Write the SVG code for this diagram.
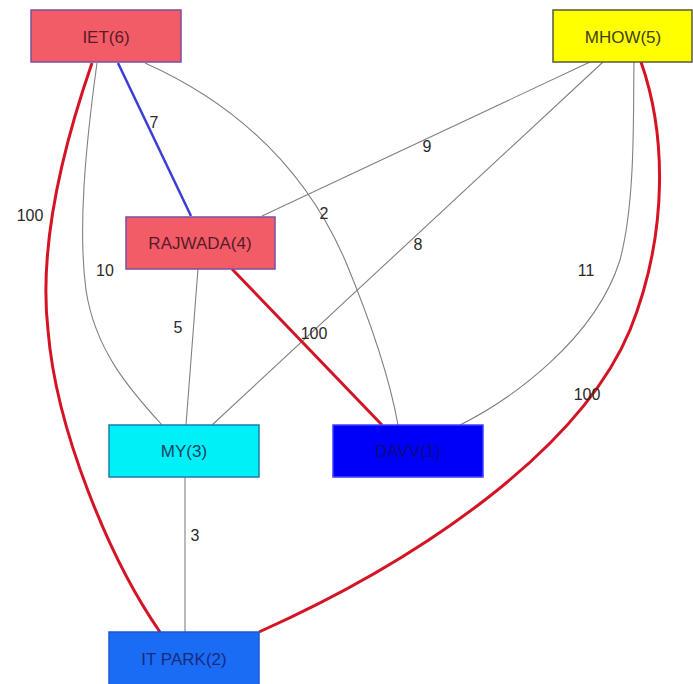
<svg xmlns="http://www.w3.org/2000/svg" width="693" height="684" viewBox="0 0 693 684">
<style>
.n rect{stroke-width:1.5}
.n text{font-family:"Liberation Sans",Arial,sans-serif;font-size:17px;text-anchor:middle;dominant-baseline:central}
.e{fill:none;stroke:#808080;stroke-width:1.1}
.r{fill:none;stroke:#d41424;stroke-width:3}
.b{fill:none;stroke:#3c3cd8;stroke-width:2.5}
.l{font-family:"Liberation Sans",Arial,sans-serif;font-size:16px;fill:#2a2a2a;text-anchor:middle;dominant-baseline:central}
</style>
<rect width="693" height="684" fill="#ffffff"/>
<g id="connectors">
<path class="b" d="M118 63 L191 216"/>
<path class="r" d="M92 63 C55 170, 40 260, 48 330 C56 430, 110 560, 160 632"/>
<path class="e" d="M97 63 C85 150, 78 230, 86 290 C95 350, 130 390, 162 425"/>
<path class="e" d="M145 63 C250 110, 310 180, 345 260 C370 320, 390 380, 398 425"/>
<path class="e" d="M590 62 L262 216"/>
<path class="e" d="M603 62 L212 425"/>
<path class="e" d="M634 62 C633 110, 636 200, 620 260 C595 340, 510 400, 460 425"/>
<path class="r" d="M641 62 C665 130, 670 230, 630 330 C580 450, 420 560, 259 632"/>
<path class="e" d="M198 269 C194 320, 190 370, 186 425"/>
<path class="r" d="M232 269 L382 425"/>
<path class="e" d="M185 477 L185 632"/>
<text class="l" x="154" y="122">7</text>
<text class="l" x="30" y="215">100</text>
<text class="l" x="105" y="270">10</text>
<text class="l" x="324" y="213">2</text>
<text class="l" x="427" y="146">9</text>
<text class="l" x="418" y="244">8</text>
<text class="l" x="586" y="270">11</text>
<text class="l" x="587" y="394">100</text>
<text class="l" x="178" y="327">5</text>
<text class="l" x="314" y="333">100</text>
<text class="l" x="195" y="535">3</text>
</g>
<g id="node-iet" class="n"><rect x="31" y="10" width="150" height="52" fill="#f25c66" stroke="#7b4ea0"/><text x="106" y="37" fill="#5a1a2a">IET(6)</text></g>
<g id="node-mhow" class="n"><rect x="553" y="10" width="139" height="52" fill="#ffff00" stroke="#5a5a3a"/><text x="623" y="37" fill="#404020">MHOW(5)</text></g>
<g id="node-rajwada" class="n"><rect x="126" y="217" width="149" height="52" fill="#f25c66" stroke="#7b4ea0"/><text x="200" y="243" fill="#5a1a2a">RAJWADA(4)</text></g>
<g id="node-my" class="n"><rect x="109" y="425" width="150" height="52" fill="#00f0f8" stroke="#1c7cb0"/><text x="184" y="451" fill="#1a4060">MY(3)</text></g>
<g id="node-davv" class="n"><rect x="333" y="425" width="150" height="52" fill="#0000f8" stroke="#4040ff"/><text x="408" y="451" fill="#0a0a80">DAVV(1)</text></g>
<g id="node-itpark" class="n"><rect x="109" y="632" width="150" height="54" fill="#1a6cf4" stroke="#1a5ad0"/><text x="184" y="659" fill="#1a2a80">IT PARK(2)</text></g>
</svg>
